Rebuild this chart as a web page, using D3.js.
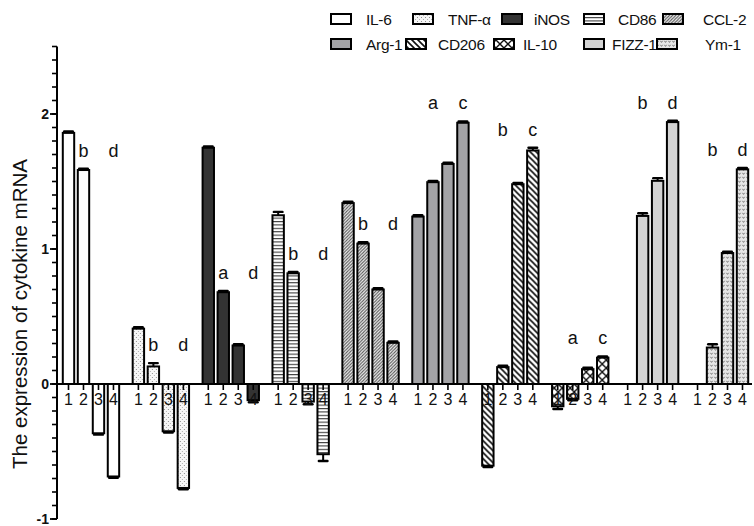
<!DOCTYPE html>
<html>
<head>
<meta charset="utf-8">
<script src="https://cdn.jsdelivr.net/npm/d3@7/dist/d3.min.js"></script>
<style>
  html, body { margin: 0; padding: 0; background: #fff; }
  svg { display: block; font-family: Arial, "Liberation Sans", sans-serif; }
</style>
</head>
<body>
<svg id="chart" width="754" height="526"></svg>
<script>
// Cytokine mRNA expression, four conditions per gene
const genes = ["IL-6", "TNF-α", "iNOS", "CD86", "CCL-2", "Arg-1", "CD206", "IL-10", "FIZZ-1", "Ym-1"];
const conditions = ["1", "2", "3", "4"];

const il6   = [1.86, 1.585, -0.365, -0.685];
const tnf   = [0.41, 0.13, -0.35, -0.77];
const inos  = [1.75, 0.68, 0.285, -0.12];
const cd86  = [1.25, 0.82, -0.13, -0.52];
const ccl2  = [1.34, 1.04, 0.70, 0.305];
const arg1  = [1.24, 1.495, 1.63, 1.935];
const cd206 = [-0.605, 0.125, 1.48, 1.73];
const il10  = [-0.165, -0.11, 0.11, 0.195];
const fizz1 = [0, 1.245, 1.505, 1.94];
const ym1   = [0, 0.27, 0.97, 1.59];

const il6Err   = [0.01, 0.01, 0.01, 0.01];
const tnfErr   = [0.01, 0.025, 0.01, 0.01];
const inosErr  = [0.01, 0.01, 0.01, 0.015];
const cd86Err  = [0.025, 0.01, 0.02, 0.05];
const ccl2Err  = [0.01, 0.01, 0.01, 0.01];
const arg1Err  = [0.01, 0.01, 0.01, 0.01];
const cd206Err = [0.01, 0.01, 0.01, 0.02];
const il10Err  = [0.02, 0.01, 0.01, 0.01];
const fizz1Err = [0, 0.02, 0.02, 0.01];
const ym1Err   = [0, 0.025, 0.01, 0.01];

// significance letters shown over conditions 2 and 4
const letters2 = ["b", "b", "a", "b", "b", "a", "b", "a", "b", "b"];
const letters4 = ["d", "d", "d", "d", "d", "c", "c", "c", "d", "d"];

const yTicks = [-1, 0, 1, 2];

const seriesValues = [il6, tnf, inos, cd86, ccl2, arg1, cd206, il10, fizz1, ym1];
const seriesErrors = [il6Err, tnfErr, inosErr, cd86Err, ccl2Err, arg1Err, cd206Err, il10Err, fizz1Err, ym1Err];

const svg = d3.select("#chart");
const defs = svg.append("defs");

// ---- fill patterns ----
function pattern(id, w, h, draw, bg) {
  const p = defs.append("pattern").attr("id", id)
    .attr("patternUnits", "userSpaceOnUse").attr("width", w).attr("height", h);
  p.append("rect").attr("width", w).attr("height", h).attr("fill", bg || "#fff");
  draw(p);
}
pattern("p-dots", 4, 4, p => {
  p.append("rect").attr("x", 1).attr("y", 1).attr("width", 1).attr("height", 1).attr("fill", "#8f8f8f");
  p.append("rect").attr("x", 3).attr("y", 3).attr("width", 1).attr("height", 1).attr("fill", "#b0b0b0");
}, "#f6f6f6");
pattern("p-hlines", 4, 3.4, p => {
  p.append("rect").attr("x", 0).attr("y", 0).attr("width", 4).attr("height", 1.1).attr("fill", "#3a3a3a");
});
pattern("p-fwd", 3.2, 3.2, p => {
  p.append("path").attr("d", "M-1,1 L1,-1 M0,3.2 L3.2,0 M2.2,4.2 L4.2,2.2")
    .attr("stroke", "#555").attr("stroke-width", 1);
}, "#f2f2f2");
pattern("p-back", 6, 6, p => {
  p.append("path").attr("d", "M-1,5 L1,7 M0,0 L6,6 M5,-1 L7,1")
    .attr("stroke", "#111").attr("stroke-width", 1.6);
});
pattern("p-cross", 8, 8, p => {
  p.append("path").attr("d", "M0,0 L8,8 M8,0 L0,8")
    .attr("stroke", "#111").attr("stroke-width", 1.4);
});
pattern("p-ym", 4, 4, p => {
  p.append("path").attr("d", "M0.4,0.8 L1.5,2.4 L2.6,0.8").attr("fill", "none")
    .attr("stroke", "#6e6e6e").attr("stroke-width", 0.9);
}, "#e6e6e6");

const fills = ["#ffffff", "url(#p-dots)", "#333333", "url(#p-hlines)", "url(#p-fwd)",
               "#a3a3a6", "url(#p-back)", "url(#p-cross)", "#d3d3d3", "url(#p-ym)"];

// ---- scales ----
const y = d3.scaleLinear().domain([-1, 2.5]).range([519, 46.5]);
const xGroup = d3.scaleBand().domain(genes).range([61, 750]).paddingInner(0.142).paddingOuter(0);
const xCond = d3.scaleBand().domain(conditions).range([0, xGroup.bandwidth()])
  .paddingInner(0.24).paddingOuter(0.12);

const axisX = 57;

// ---- bars ----
const groupsG = svg.append("g").selectAll("g").data(genes).join("g")
  .attr("transform", d => `translate(${xGroup(d)},0)`);

groupsG.each(function(gene, gi) {
  const g = d3.select(this);
  const vals = seriesValues[gi], errs = seriesErrors[gi];
  conditions.forEach((c, ci) => {
    const v = vals[ci], e = errs[ci];
    if (v === 0) return;
    const x0 = xCond(c), w = xCond.bandwidth(), cx = x0 + w / 2;
    const tip = v > 0 ? v + e : v - e;
    // error bar
    g.append("line").attr("x1", cx).attr("x2", cx).attr("y1", y(v)).attr("y2", y(tip))
      .attr("stroke", "#000").attr("stroke-width", 2);
    g.append("line").attr("x1", cx - w * 0.38).attr("x2", cx + w * 0.38).attr("y1", y(tip)).attr("y2", y(tip))
      .attr("stroke", "#000").attr("stroke-width", 2.4).attr("stroke-linecap", "round");
    g.append("rect")
      .attr("x", x0).attr("width", w)
      .attr("y", y(Math.max(0, v))).attr("height", Math.abs(y(v) - y(0)))
      .attr("fill", fills[gi]).attr("stroke", "#000").attr("stroke-width", 2);
  });
});

// ---- x axis along zero ----
svg.append("line").attr("x1", axisX).attr("x2", 752).attr("y1", y(0)).attr("y2", y(0))
  .attr("stroke", "#000").attr("stroke-width", 2);

groupsG.each(function(gene, gi) {
  const g = d3.select(this);
  conditions.forEach(c => {
    const cx = xCond(c) + xCond.bandwidth() / 2;
    g.append("line").attr("x1", cx).attr("x2", cx).attr("y1", y(0)).attr("y2", y(0) + 6)
      .attr("stroke", "#000").attr("stroke-width", 1.6);
    g.append("text").attr("x", cx).attr("y", y(0) + 21).attr("text-anchor", "middle")
      .attr("font-size", 16).attr("fill", "#111").text(c);
  });
  // significance letters
  const vals = seriesValues[gi], errs = seriesErrors[gi];
  const top = d3.max([1, 3], i => vals[i] > 0 ? vals[i] + errs[i] : 0);
  const ly = y(top) - 12;
  [[1, letters2[gi]], [3, letters4[gi]]].forEach(([ci, t]) => {
    const cx = xCond(conditions[ci]) + xCond.bandwidth() / 2;
    g.append("text").attr("x", cx).attr("y", ly).attr("text-anchor", "middle")
      .attr("font-size", 18).attr("fill", "#111").text(t);
  });
});

// ---- y axis ----
const yAxisG = svg.append("g");
yAxisG.append("line").attr("x1", axisX).attr("x2", axisX).attr("y1", y(2.5)).attr("y2", y(-1))
  .attr("stroke", "#000").attr("stroke-width", 2);
const minor = d3.range(-10, 26).map(i => i / 10);
yAxisG.selectAll("line.minor").data(minor).join("line").attr("class", "minor")
  .attr("x1", axisX - 5).attr("x2", axisX).attr("y1", d => y(d)).attr("y2", d => y(d))
  .attr("stroke", "#000").attr("stroke-width", 1.6);
yAxisG.selectAll("line.major").data(yTicks).join("line").attr("class", "major")
  .attr("x1", axisX - 7).attr("x2", axisX).attr("y1", d => y(d)).attr("y2", d => y(d))
  .attr("stroke", "#000").attr("stroke-width", 1.8);
yAxisG.selectAll("text").data(yTicks).join("text")
  .attr("x", axisX - 8).attr("y", d => y(d) + 4.5).attr("text-anchor", "end")
  .attr("font-size", 14).attr("font-weight", "bold").attr("fill", "#111").text(d => d);

svg.append("text").attr("transform", `translate(27,${314}) rotate(-90)`)
  .attr("text-anchor", "middle").attr("font-size", 20.5).attr("fill", "#111")
  .text("The expression of cytokine mRNA");

// ---- legend ----
const legendLayout = [
  { sx: 331, tx: 366, row: 0 }, { sx: 413, tx: 448, row: 0 }, { sx: 502, tx: 534, row: 0 },
  { sx: 584, tx: 618, row: 0 }, { sx: 663, tx: 703, row: 0 },
  { sx: 331, tx: 366, row: 1 }, { sx: 406, tx: 438, row: 1 }, { sx: 494, tx: 523, row: 1 },
  { sx: 584, tx: 612, row: 1 }, { sx: 657, tx: 705, row: 1 }
];
const legend = svg.append("g");
genes.forEach((gname, i) => {
  const L = legendLayout[i];
  const rowY = L.row === 0 ? 14 : 39;
  legend.append("rect").attr("x", L.sx).attr("y", rowY).attr("width", 20).attr("height", 10)
    .attr("fill", fills[i]).attr("stroke", "#000").attr("stroke-width", 2);
  legend.append("text").attr("x", L.tx).attr("y", rowY + 11).attr("font-size", 15.5)
    .attr("letter-spacing", -0.3).attr("fill", "#111").text(gname);
});
</script>
</body>
</html>
